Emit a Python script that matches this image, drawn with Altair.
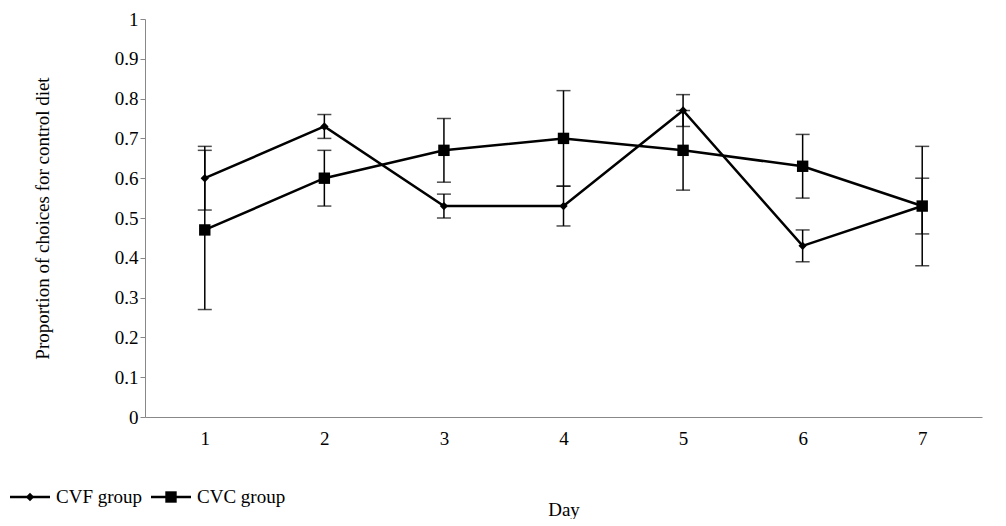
import altair as alt
import pandas as pd

days = [1, 2, 3, 4, 5, 6, 7]
cvf_mean = [0.60, 0.73, 0.53, 0.53, 0.77, 0.43, 0.53]
cvf_lo = [0.52, 0.70, 0.50, 0.48, 0.73, 0.39, 0.46]
cvf_hi = [0.68, 0.76, 0.56, 0.58, 0.81, 0.47, 0.60]
cvc_mean = [0.47, 0.60, 0.67, 0.70, 0.67, 0.63, 0.53]
cvc_lo = [0.27, 0.53, 0.59, 0.58, 0.57, 0.55, 0.38]
cvc_hi = [0.67, 0.67, 0.75, 0.82, 0.77, 0.71, 0.68]
groups = ['CVF group', 'CVC group']
shapes = ['diamond', 'square']

df = pd.concat([
    pd.DataFrame({'Day': days, 'm': cvf_mean, 'lo': cvf_lo, 'hi': cvf_hi, 'g': groups[0]}),
    pd.DataFrame({'Day': days, 'm': cvc_mean, 'lo': cvc_lo, 'hi': cvc_hi, 'g': groups[1]}),
])

F = 'Liberation Serif'
xscale = alt.Scale(domain=[0.5, 7.5], nice=False)
yscale = alt.Scale(domain=[0, 1])
xaxis = alt.Axis(values=days, title='Day', grid=False, ticks=False, titlePadding=52,
                 labelFontSize=19, titleFontSize=19, labelPadding=12, format='d')
yaxis = alt.Axis(values=[i / 10 for i in range(11)], title='Proportion of choices for control diet',
                 grid=False, tickColor='#888', labelFontSize=19, titleFontSize=19, titlePadding=62,
                 labelExpr="datum.value == 0 ? '0' : datum.value == 1 ? '1' : format(datum.value, '.1f')")

base = alt.Chart(df)
err = base.mark_errorbar(ticks=alt.TickConfig(size=14, color='black', thickness=1.5), color='black', thickness=1.5).encode(
    x=alt.X('Day:Q', scale=xscale, axis=xaxis),
    y=alt.Y('lo:Q', scale=yscale, axis=yaxis), y2='hi:Q', detail='g:N')
lines = base.mark_line(color='black', strokeWidth=2.5).encode(
    x=alt.X('Day:Q', scale=xscale, axis=xaxis), y=alt.Y('m:Q', scale=yscale, axis=yaxis), detail='g:N')
pts = base.mark_point(filled=True, color='black', opacity=1).encode(
    x=alt.X('Day:Q', scale=xscale, axis=xaxis), y=alt.Y('m:Q', scale=yscale, axis=yaxis),
    shape=alt.Shape('g:N', scale=alt.Scale(domain=groups, range=shapes), legend=None),
    size=alt.Size('g:N', scale=alt.Scale(domain=groups, range=[70, 130]), legend=None))

leg = pd.DataFrame({'g': groups, 'x0': [-135, 6], 'x1': [-95, 46], 'xm': [-115, 26], 'xt': [-89, 52]})
lc = alt.Chart(leg)
leg_line = lc.mark_rule(color='black', strokeWidth=2.5).encode(
    x=alt.X('x0:Q', scale=None), x2='x1:Q', y=alt.value(478))
leg_pt = lc.mark_point(filled=True, color='black', opacity=1).encode(
    x=alt.X('xm:Q', scale=None), y=alt.value(478),
    shape=alt.Shape('g:N', scale=alt.Scale(domain=groups, range=shapes), legend=None),
    size=alt.Size('g:N', scale=alt.Scale(domain=groups, range=[70, 130]), legend=None))
leg_txt = lc.mark_text(align='left', baseline='middle', font=F, fontSize=19).encode(
    x=alt.X('xt:Q', scale=None), y=alt.value(478), text='g:N')

chart = alt.layer(lines, err, pts, leg_line, leg_pt, leg_txt).properties(
    width=837, height=398, padding={'left': 0, 'top': 2, 'right': 5, 'bottom': 0}
).configure_view(stroke=None).configure_axis(
    domainColor='#888', labelColor='black', labelFont=F, titleFont=F, titleFontWeight='normal')

chart.save('out.html', embed_options={'renderer': 'svg', 'actions': False})
